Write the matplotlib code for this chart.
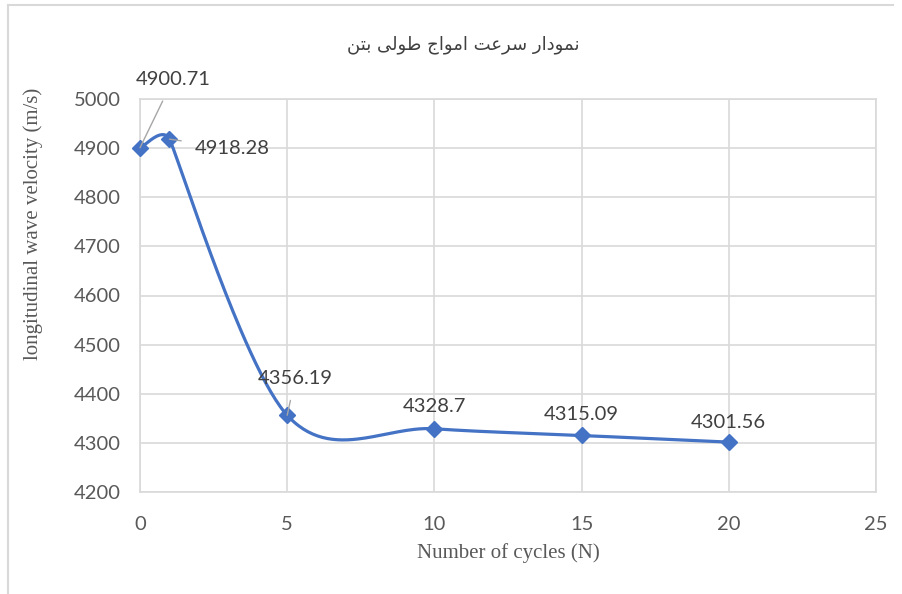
import numpy as np
import matplotlib.pyplot as plt
from matplotlib.lines import Line2D

# data
cycles = [0, 1, 5, 10, 15, 20]
velocity = [4900.71, 4918.28, 4356.19, 4328.7, 4315.09, 4301.56]
labels = ["4900.71", "4918.28", "4356.19", "4328.7", "4315.09", "4301.56"]
# label offsets in pixels (dx, dy) and whether a leader line is drawn
label_offsets = [(33, 68), (63, -9), (8, 37), (0, 22), (0, 21), (0, 20)]
leaders = [True, True, True, False, False, False]

title = "نمودار سرعت امواج طولی بتن"
xlabel = "Number of cycles (N)"
ylabel = "longitudinal wave velocity (m/s)"

# Persian shaping (presentation forms: isolated, final, initial, medial)
forms = {
    "ن": ("\uFEE5", "\uFEE6", "\uFEE7", "\uFEE8"),
    "م": ("\uFEE1", "\uFEE2", "\uFEE3", "\uFEE4"),
    "و": ("\uFEED", "\uFEEE", None, None),
    "د": ("\uFEA9", "\uFEAA", None, None),
    "ا": ("\uFE8D", "\uFE8E", None, None),
    "ر": ("\uFEAD", "\uFEAE", None, None),
    "س": ("\uFEB1", "\uFEB2", "\uFEB3", "\uFEB4"),
    "ع": ("\uFEC9", "\uFECA", "\uFECB", "\uFECC"),
    "ت": ("\uFE95", "\uFE96", "\uFE97", "\uFE98"),
    "ج": ("\uFE9D", "\uFE9E", "\uFE9F", "\uFEA0"),
    "ط": ("\uFEC1", "\uFEC2", "\uFEC3", "\uFEC4"),
    "ل": ("\uFEDD", "\uFEDE", "\uFEDF", "\uFEE0"),
    "ی": ("\uFBFC", "\uFBFD", "\uFBFE", "\uFBFF"),
    "ب": ("\uFE8F", "\uFE90", "\uFE91", "\uFE92"),
}


def shape(text):
    out = []
    for i, ch in enumerate(text):
        if ch not in forms:
            out.append(ch)
            continue
        prev = text[i - 1] if i > 0 else " "
        nxt = text[i + 1] if i + 1 < len(text) else " "
        join_prev = prev in forms and forms[prev][2] is not None
        join_next = nxt in forms and forms[ch][2] is not None
        f = forms[ch]
        if join_prev and join_next:
            out.append(f[3])
        elif join_prev:
            out.append(f[1])
        elif join_next:
            out.append(f[2])
        else:
            out.append(f[0])
    return "".join(reversed(out))


W, H = 902, 594
fig = plt.figure(figsize=(W / 100, H / 100), dpi=100)
ax = fig.add_axes([140 / W, 1 - 492 / H, (876 - 140) / W, (492 - 99) / H])

ax.set_xlim(0, 25)
ax.set_ylim(4200, 5000)
ax.set_xticks(range(0, 26, 5))
ax.set_yticks(range(4200, 5001, 100))
ax.grid(True, color="#d9d9d9", linewidth=1.2)
ax.set_axisbelow(True)
for s in ax.spines.values():
    s.set_color("#d9d9d9")
    s.set_linewidth(1.2)
ax.tick_params(length=0, labelsize=14.5, labelcolor="#595959", pad=14)
ax.tick_params(axis="x", pad=17)
for lab in ax.get_xticklabels() + ax.get_yticklabels():
    lab.set_fontfamily("Lato")

ax.set_xlabel(xlabel, fontfamily="Liberation Serif", fontsize=15,
              color="#595959")
ax.set_ylabel(ylabel, fontfamily="Liberation Serif", fontsize=15,
              color="#595959")
ax.xaxis.set_label_coords(0.5, -(553 - 492) / (492 - 99),
                          transform=ax.transAxes)
ax.yaxis.label.set_va("center")
ax.xaxis.label.set_va("center")
ax.yaxis.set_label_coords(-(140 - 33) / (876 - 140), (492 - 224) / (492 - 99),
                          transform=ax.transAxes)

# Excel-style smoothed line, computed in pixel space
pts = ax.transData.transform(np.column_stack([cycles, velocity]))
n = len(pts)


def ctrl(i, sign):
    p0 = pts[max(i - 1, 0)]
    p1 = pts[i]
    p2 = pts[min(i + 1, n - 1)]
    d02 = np.linalg.norm(p2 - p0)
    d01 = np.linalg.norm(p1 - p0)
    d12 = np.linalg.norm(p2 - p1)
    if d02 == 0:
        return p1
    cands = [d02 / 6]
    if d01 > 0:
        cands.append(d01 / 2)
    if d12 > 0:
        cands.append(d12 / 2)
    length = min(cands)
    return p1 + sign * length * (p2 - p0) / d02


t = np.linspace(0, 1, 60)[:, None]
curve = []
for i in range(n - 1):
    a, b = pts[i], pts[i + 1]
    c1, c2 = ctrl(i, 1), ctrl(i + 1, -1)
    seg = ((1 - t) ** 3 * a + 3 * (1 - t) ** 2 * t * c1
           + 3 * (1 - t) * t ** 2 * c2 + t ** 3 * b)
    curve.append(seg)
curve = ax.transData.inverted().transform(np.vstack(curve))

blue = "#4472C4"
ax.plot(curve[:, 0], curve[:, 1], color=blue, linewidth=2.3,
        solid_capstyle="round", clip_on=False, zorder=3)
ax.plot(cycles, velocity, linestyle="none", marker="D", markersize=8,
        color=blue, clip_on=False, zorder=4)

for x, y, lab, (dx, dy), lead in zip(cycles, velocity, labels,
                                     label_offsets, leaders):
    ax.annotate(lab, (x, y), xytext=(dx * 0.72, dy * 0.72),
                textcoords="offset points", ha="center", va="center",
                fontfamily="Lato", fontsize=14.5, color="#404040",
                arrowprops=dict(arrowstyle="-", color="#a6a6a6", lw=1,
                                shrinkA=8, shrinkB=0) if lead else None,
                zorder=5)

fig.text(463 / W, 1 - 45 / H, shape(title), ha="center", va="center",
         fontfamily="DejaVu Sans", fontsize=13, color="#404040")

# chart area border (only top and left edges visible in the crop)
fig.add_artist(Line2D([8 / W, 893 / W], [1 - 4.5 / H, 1 - 4.5 / H],
                      transform=fig.transFigure, color="#d9d9d9", lw=1.5))
fig.add_artist(Line2D([8 / W, 8 / W], [1 - 4.5 / H, 0],
                      transform=fig.transFigure, color="#d9d9d9", lw=1.5))

fig.savefig("out.png", dpi=100)
